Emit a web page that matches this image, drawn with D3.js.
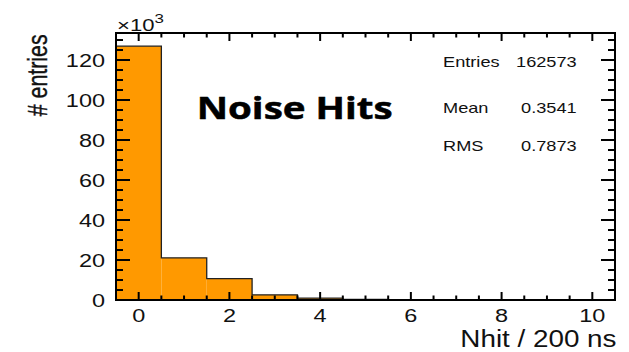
<!DOCTYPE html>
<html>
<head>
<meta charset="utf-8">
<script src="https://cdn.jsdelivr.net/npm/d3@7"></script>
<style>
  html, body { margin: 0; padding: 0; background: #fff; }
  svg { display: block; }
  text { font-family: "Liberation Sans", Arial, Helvetica, sans-serif; fill: #111; }
</style>
</head>
<body>
<svg id="chart" width="629" height="352"></svg>
<script>
// Noise hit multiplicity per 200 ns window (counts in units of 10^3)
const binCenters = [0, 1, 2, 3, 4, 5, 6, 7, 8, 9, 10];
const binCounts  = [126.9, 21.1, 10.7, 2.6, 0.95, 0.25, 0.06, 0.013, 0.003, 0.001, 0];

const xTickValues = [0, 2, 4, 6, 8, 10];
const yTickValues = [0, 20, 40, 60, 80, 100, 120];

const statLabels = ["Entries", "Mean", "RMS"];
const statValues = ["162573", "0.3541", "0.7873"];

const title = "Noise Hits";
const xTitle = "Nhit / 200 ns";
const yTitle = "# entries";

const svg = d3.select("#chart");
const frame = { left: 116, right: 615, top: 33, bottom: 300 };
const SX = 1.27; // horizontal glyph stretch

const x = d3.scaleLinear().domain([-0.5, 10.5]).range([frame.left, frame.right]);
const y = d3.scaleLinear().domain([0, 133.5]).range([frame.bottom, frame.top]);

function label(sel, txt, tx, ty, opts = {}) {
  const t = sel.append("text")
    .attr("transform", `translate(${tx},${ty}) scale(${opts.sx || SX},1)` + (opts.rotate ? ` rotate(${opts.rotate})` : ""))
    .attr("text-anchor", opts.anchor || "start")
    .attr("font-size", opts.size || 18.5)
    .text(txt);
  if (opts.weight) t.attr("font-weight", opts.weight);
  if (opts.family) t.style("font-family", opts.family);
  return t;
}

// Bars: filled bins
const bw = 1;
svg.append("g").selectAll("rect")
  .data(binCenters.map((c, i) => ({ c, v: binCounts[i] })))
  .join("rect")
  .attr("x", d => x(d.c - bw / 2))
  .attr("width", d => x(d.c + bw / 2) - x(d.c - bw / 2))
  .attr("y", d => y(d.v))
  .attr("height", d => y(0) - y(d.v))
  .attr("fill", "#ff9900");

// Histogram contour
const pts = [[binCenters[0] - bw / 2, 0]];
binCenters.forEach((c, i) => {
  pts.push([c - bw / 2, binCounts[i]]);
  pts.push([c + bw / 2, binCounts[i]]);
});
pts.push([binCenters[binCenters.length - 1] + bw / 2, 0]);
svg.append("path")
  .attr("d", d3.line().x(d => x(d[0])).y(d => y(d[1]))(pts))
  .attr("fill", "none")
  .attr("stroke", "#222")
  .attr("stroke-width", 1.3);

// Axes with inward ticks on all four sides
const yMinor = d3.range(0, 134, 5);
const xMinor = d3.range(-0.5, 10.51, 0.5);
const ticks = svg.append("g").attr("stroke", "#000");

yMinor.forEach(v => {
  const major = v % 20 === 0;
  const len = major ? 14 : 7;
  ticks.append("line").attr("x1", frame.left).attr("x2", frame.left + len)
    .attr("y1", y(v)).attr("y2", y(v)).attr("stroke-width", 2);
  ticks.append("line").attr("x1", frame.right).attr("x2", frame.right - len)
    .attr("y1", y(v)).attr("y2", y(v)).attr("stroke-width", 2);
});
xMinor.forEach(v => {
  const major = Math.abs(v % 2) < 1e-9;
  const len = major ? 8 : 4.5;
  ticks.append("line").attr("x1", x(v)).attr("x2", x(v))
    .attr("y1", frame.bottom).attr("y2", frame.bottom - len).attr("stroke-width", 2);
  ticks.append("line").attr("x1", x(v)).attr("x2", x(v))
    .attr("y1", frame.top).attr("y2", frame.top + len).attr("stroke-width", 2);
});

svg.append("rect")
  .attr("x", frame.left).attr("y", frame.top)
  .attr("width", frame.right - frame.left).attr("height", frame.bottom - frame.top)
  .attr("fill", "none").attr("stroke", "#000").attr("stroke-width", 2);

// Tick labels
yTickValues.forEach(v => label(svg, String(v), 105, y(v) + 6.6, { anchor: "end" }));
xTickValues.forEach(v => label(svg, String(v), x(v), 321.7, { anchor: "middle" }));

// Axis titles
label(svg, xTitle, 616.5, 347.3, { anchor: "end", size: 23, sx: 1.21 });
label(svg, yTitle, 46.5, 34.3, { anchor: "end", size: 21.4, sx: 1.25, rotate: -90 })
  .attr("stroke", "#111").attr("stroke-width", 0.3);

// Exponent marker
const expo = label(svg, "\u00d710", 117, 30.5, { size: 17, sx: 1.3 });
expo.append("tspan").attr("font-size", 13).attr("dy", -8).text("3");

// Title
svg.append("text")
  .attr("x", 196.7).attr("y", 119)
  .attr("font-size", 31)
  .attr("font-weight", "bold")
  .attr("textLength", 196)
  .attr("lengthAdjust", "spacingAndGlyphs")
  .attr("stroke", "#000").attr("stroke-width", 0.5)
  .style("fill", "#000")
  .style("font-family", "'Open Sans', 'Noto Sans', sans-serif")
  .text(title);

// Statistics box
const statY = [66.7, 113, 150.7];
statLabels.forEach((s, i) => {
  label(svg, s, 443, statY[i], { size: 14, sx: 1.3 });
  label(svg, statValues[i], 576.7, statY[i], { size: 14, sx: 1.3, anchor: "end" });
});
</script>
</body>
</html>
